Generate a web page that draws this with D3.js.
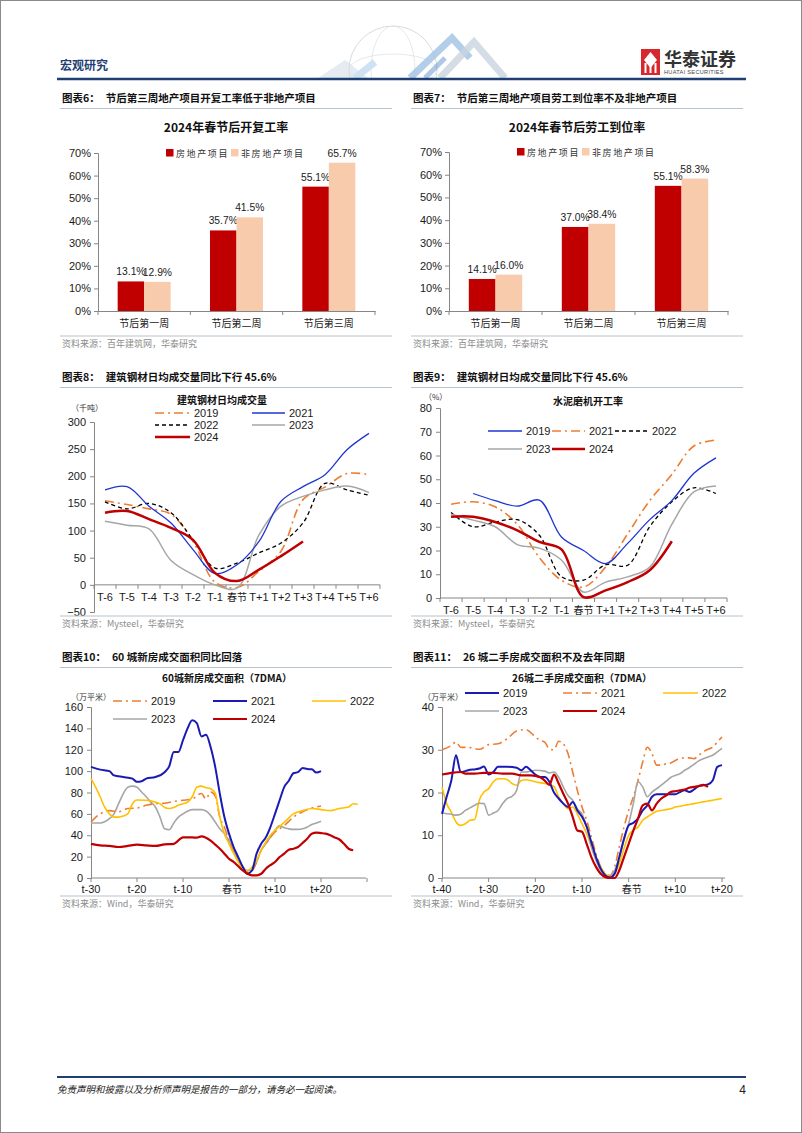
<!DOCTYPE html>
<html><head><meta charset="utf-8">
<script src="https://cdn.jsdelivr.net/npm/d3@7"></script>
<style>
html,body{margin:0;padding:0;background:#fff;}
svg text{font-family:"Liberation Sans","Noto Sans CJK SC",sans-serif;}
.cn{font-family:"Noto Sans CJK SC",sans-serif;}
</style></head>
<body><svg id="page" width="802" height="1133"></svg>
<script>
// ---------------- DATA ----------------
const barCats = ["节后第一周","节后第二周","节后第三周"];
const barSeriesNames = ["房地产项目","非房地产项目"];
const resumeRE = [13.1,35.7,55.1];
const resumeNonRE = [12.9,41.5,65.7];
const laborRE = [14.1,37.0,55.1];
const laborNonRE = [16.0,38.4,58.3];
const pctTicks = [0,10,20,30,40,50,60,70];

const weekCats = ["T-6","T-5","T-4","T-3","T-2","T-1","春节","T+1","T+2","T+3","T+4","T+5","T+6"];
const steelTicks = [-50,0,50,100,150,200,250,300];
const steel2019 = [155,148,140,130,80,5,-5,25,62,157,180,205,203];
const steel2021 = [175,181,145,114,65,21,37,80,154,181,203,249,279];
const steel2022 = [153,140,150,133,83,31,40,59,77,114,187,175,165];
const steel2023 = [117,110,103,45,19,0,-6,92,145,163,175,182,170];
const steel2024 = [133,136,121,105,83,22,7,28,53,80];

const cementTicks = [0,10,20,30,40,50,60,70,80];
const cement2019 = [null,44,41,38.7,41.2,25.7,20,14.5,23,33,41,52.5,59];
const cement2021 = [39.5,40.5,38.4,31,17,7.5,4.6,13,27,41,52,64,66.5];
const cement2022 = [36,30,32,33,26.4,9,7.5,14,13.8,30,40.5,46.4,44];
const cement2023 = [35.3,32.8,30,22.5,21,16,2.5,6.7,8.9,13,31,44.7,47.2];
const cement2024 = [34.2,34.2,32,28.5,23.6,20.5,0.4,3.2,6.7,11.7,23.9];

// 60城新房 (day offset, value)
const newTicks = [0,20,40,60,80,100,120,140,160];
const newXTicks = [-30,-20,-10,0,10,20,30];
const newXLabels = ["t-30","t-20","t-10","春节","t+10","t+20",""];
const new2019 = [[-30,52.4],[-28,60],[-26,63],[-24,62],[-22,65],[-20,65.5],[-18,68],[-16,69.5],[-14,70],[-12,71.7],[-10,72.7],[-8,74],[-6,79],[-5,74],[-4,80.5],[-3,77],[-2,57],[-1,47.7],[0,35],[1,26],[2,18],[3,10],[4,5.6],[5,7],[6,15],[7,26],[8,32],[9,38],[10,43],[12,49],[14,57],[16,62],[18,65.5],[20,67.4]];
const new2021 = [[-30,104],[-28,101.4],[-26,100],[-25,96],[-23,94.5],[-21,93],[-20,90],[-19,90.5],[-18,93],[-16,94.5],[-14,99],[-13,104.5],[-12,118],[-11,118],[-10,129],[-9,140],[-8,147.5],[-7,145],[-6,132.5],[-5,134],[-4,122.6],[-3,104],[-2,79],[-1,57],[0,41.5],[1,29],[2,19.6],[3,10.3],[4,4],[5,7],[6,22.8],[7,32],[8,38],[9,47.7],[10,60],[11,72.7],[12,85],[13,91],[14,98],[15,99],[16,103],[17,102],[18,101.7],[19,98.6],[20,100]];
const new2022 = [[-30,93],[-29,85],[-28,76],[-27,66],[-26,60],[-25,57],[-24,57],[-23,58],[-22,60],[-21,69.5],[-20,73],[-18,72.7],[-16,71],[-15,69.5],[-14,66],[-13,65],[-12,66],[-11,68],[-10,69.5],[-9,71],[-8,76],[-7,85],[-6,86],[-5,84.5],[-4,83.6],[-3,79.5],[-2,57],[-1,41.5],[0,32],[1,23],[2,15],[3,8.7],[4,7],[5,10],[6,16.5],[7,26],[8,33.7],[9,40],[10,44.6],[12,52],[14,60],[16,63],[18,65],[20,64],[22,63],[24,65],[26,66.4],[27,69.5],[28,69]];
const new2023 = [[-30,51.5],[-28,51.5],[-26,55.5],[-25,60],[-24,69.5],[-22,85],[-21,86],[-20,85],[-19,80.5],[-18,76],[-17,71],[-16,66.4],[-15,57],[-14,46],[-13,45.2],[-12,51.5],[-11,57],[-10,60],[-9,62.4],[-8,64],[-6,64],[-5,62.7],[-4,58.6],[-3,52.4],[-2,46],[-1,41.5],[0,35],[1,26],[2,16.5],[3,10],[4,7],[5,7],[6,15],[7,26],[8,32],[9,38],[10,44.6],[11,49],[12,47],[13,46],[14,45.5],[15,45.5],[16,46],[17,47.7],[18,50],[19,51.5],[20,53]];
const new2024 = [[-30,32],[-28,30.6],[-26,30],[-24,29],[-22,30],[-20,31.2],[-18,30.6],[-16,30],[-14,31.5],[-12,32],[-10,38],[-8,38],[-7,37.7],[-6,39],[-5,37.7],[-4,35],[-3,31.2],[-2,27.4],[-1,22.8],[0,18],[1,15],[2,11],[3,7],[4,4],[5,2.5],[6,2.5],[7,4],[8,8.7],[9,12],[10,15],[11,19.6],[12,22.8],[13,26.5],[14,27.4],[15,29],[16,32.8],[17,36.8],[18,41.5],[19,42.4],[20,42],[21,41.5],[22,40],[23,38],[24,36],[25,32],[26,27.4],[27,26]];

// 26城二手房 (day offset, value)
const oldTicks = [0,10,20,30,40];
const oldXTicks = [-40,-30,-20,-10,0,10,20];
const oldXLabels = ["t-40","t-30","t-20","t-10","春节","t+10","t+20"];
const old2019 = [[-40,15],[-39,19],[-38,22.8],[-37,28.7],[-36,24.8],[-35,25],[-34,25.3],[-33,25.4],[-32,25.6],[-31,26.1],[-30,24.2],[-29,24.8],[-28,26],[-26,26],[-24,25.8],[-23,25.2],[-22,26],[-21,25.2],[-20,24.2],[-19,23.6],[-18,23.6],[-17,22.5],[-16,20],[-15,18.6],[-14,17.4],[-13,16.6],[-12,17.8],[-11,15.8],[-10,14.3],[-9,12],[-8,8.4],[-7,4.9],[-6,2.2],[-5,0.6],[-4,0.1],[-3,1],[-2,4.9],[-1,9.2],[0,12.3],[1,12.9],[2,13.9],[3,15.8],[4,17],[5,19],[6,19.6],[7,19.6],[8,19.6],[9,19.6],[10,19.6],[11,20.1],[12,20.5],[13,20.1],[14,20.7],[15,21.5],[16,21.7],[17,21.9],[18,22.8],[19,26],[20,26.4]];
const old2021 = [[-40,30],[-38,31],[-37,31.8],[-36,30.6],[-34,30.5],[-32,30.1],[-30,31.2],[-28,31.4],[-26,32.6],[-24,34.4],[-22,34.7],[-21,34],[-20,33],[-19,32.2],[-18,31.8],[-17,30.2],[-16,30],[-15,32],[-14,31.4],[-13,29.1],[-12,24.8],[-11,20.5],[-10,16.6],[-9,13.5],[-8,9.6],[-7,5.7],[-6,2.6],[-5,1],[-4,0.6],[-3,2.6],[-2,7.3],[-1,11.9],[0,15.8],[1,19],[2,22.8],[3,27.1],[4,30.6],[5,29.1],[6,26.4],[7,26.4],[8,26.7],[9,26.9],[10,27.5],[11,27.9],[12,28.1],[13,28.1],[14,27.9],[15,28.7],[16,29.5],[17,30.1],[18,30.6],[19,31.8],[20,33]];
const old2022 = [[-40,21.3],[-39,17.4],[-38,15.4],[-37,13.1],[-36,12.3],[-35,12.7],[-34,13.5],[-33,13.7],[-32,18.2],[-31,20.1],[-30,20.9],[-29,22.5],[-28,23.2],[-27,23.2],[-26,23],[-25,22.1],[-24,21.7],[-23,22.8],[-22,23],[-21,22.8],[-20,22.5],[-18,22.1],[-16,21.4],[-15,19],[-14,17.4],[-13,16.2],[-12,16.6],[-11,15],[-10,12.7],[-9,10.4],[-8,7.3],[-7,4.5],[-6,2.6],[-5,1],[-4,0.4],[-3,1],[-2,3.4],[-1,6.9],[0,10],[1,11.2],[2,11.9],[3,13.5],[4,14.3],[5,15],[6,15.6],[7,15.8],[8,16],[9,16.2],[10,16.6],[11,16.8],[12,17],[13,17.2],[14,17.4],[15,17.6],[16,17.8],[17,18],[18,18.2],[19,18.4],[20,18.6]];
const old2023 = [[-40,15.2],[-38,14.9],[-37,14.7],[-36,14.9],[-35,15.8],[-34,16.4],[-33,17],[-32,17.5],[-31,17.4],[-30,14.7],[-29,15.2],[-28,15.8],[-27,17.4],[-26,18.6],[-25,19.1],[-24,20.5],[-23,24.8],[-22,24.8],[-21,25],[-20,25.2],[-18,25],[-17,24.6],[-16,24.8],[-15,23.6],[-14,21.3],[-13,19.3],[-12,18.2],[-11,16.2],[-10,15],[-9,11.9],[-8,7.3],[-7,4.1],[-6,1.8],[-5,0.6],[-4,0.4],[-3,1.8],[-2,4.9],[-1,8.8],[0,12.7],[1,17.4],[2,22.5],[3,21.3],[4,19],[5,20.1],[6,20.9],[7,21.7],[8,22.6],[9,23.5],[10,24],[11,24.4],[12,25.2],[13,25.8],[14,26.6],[15,27.4],[16,27.9],[17,28.3],[18,28.7],[19,29.5],[20,30.3]];
const old2024 = [[-40,24.2],[-38,24.6],[-36,24.8],[-35,24.4],[-33,24.4],[-31,24.6],[-29,24.6],[-27,24.4],[-25,24.4],[-23,24],[-21,24],[-19,23.6],[-18,22.8],[-17,21.8],[-16,24.2],[-15,22.1],[-14,19.7],[-13,17.4],[-12,14.3],[-11,11.1],[-10,10.8],[-9,8],[-8,4.9],[-7,2.6],[-6,1],[-5,0.2],[-4,0],[-3,0],[-2,1.8],[-1,4.9],[0,8],[1,11.1],[2,13.9],[3,17],[4,17.4],[5,15.8],[6,17.4],[7,18.6],[8,19.3],[9,20.1],[10,20.3],[11,20.5],[12,20.7],[13,21.1],[14,21.3],[15,21.5],[16,21.8],[17,21.3]];

// ---------------- STYLE ----------------
const RED="#C00000", PEACH="#F8CBAD", ORANGE="#ED7D31", BLUE="#1F35D2", BLUE2="#1A1AB4", GRAY="#A6A6A6", YEL="#FFC000", BLK="#000";
const AXIS="#868686", TXT="#1a1a1a", SRC="#8c8c8c";

const svg = d3.select("#page");
svg.append("rect").attr("x",0.5).attr("y",0.5).attr("width",801).attr("height",1132).attr("fill","#fff").attr("stroke","#8a8a8a");

// ---------------- HEADER ----------------
const hdr = svg.append("g");
svg.append("clipPath").attr("id","hclip").append("rect").attr("x",290).attr("y",20).attr("width",260).attr("height",58);
const deco = hdr.append("g").attr("clip-path","url(#hclip)");
deco.append("path").attr("d","M318,78 L345,60 L368,78 Z").attr("fill","#e6ebf1");
deco.append("circle").attr("cx",393).attr("cy",70).attr("r",44).attr("fill","none").attr("stroke","#d5dbe2").attr("stroke-width",1);
deco.append("ellipse").attr("cx",393).attr("cy",70).attr("rx",22).attr("ry",44).attr("fill","none").attr("stroke","#dde2e8").attr("stroke-width",0.8);
deco.append("ellipse").attr("cx",393).attr("cy",70).attr("rx",44).attr("ry",16).attr("fill","none").attr("stroke","#dde2e8").attr("stroke-width",0.8);
deco.append("path").attr("d","M355,78 L375,62").attr("stroke","#cfe2f3").attr("stroke-width",7);
deco.append("path").attr("d","M410,78 L452,38 L470,58").attr("fill","none").attr("stroke","#9fc2e4").attr("stroke-width",7).attr("opacity",0.8);
deco.append("path").attr("d","M440,78 L474,42 L505,78").attr("fill","none").attr("stroke","#c9d3df").attr("stroke-width",7).attr("opacity",0.8);
deco.append("path").attr("d","M425,78 L445,58").attr("stroke","#5f93cc").attr("stroke-width",5).attr("opacity",0.5);
hdr.append("text").attr("class","cn").attr("x",60).attr("y",70).attr("font-size",12).attr("font-weight","bold").attr("fill","#1F3F73").text("宏观研究");
hdr.append("line").attr("x1",57).attr("x2",746).attr("y1",79).attr("y2",79).attr("stroke","#1F3F73").attr("stroke-width",2.5);
// logo
const logo = hdr.append("g");
logo.append("rect").attr("x",641).attr("y",49).attr("width",19).attr("height",26).attr("fill","#D7282F");
logo.append("path").attr("d","M650.5,52 L657,60 L650.5,68 L644,60 Z").attr("fill","#fff");
logo.append("rect").attr("x",644.5).attr("y",63).attr("width",2).attr("height",10).attr("fill","#fff");
logo.append("rect").attr("x",649.5).attr("y",63).attr("width",2).attr("height",10).attr("fill","#fff");
logo.append("rect").attr("x",654.5).attr("y",63).attr("width",2).attr("height",10).attr("fill","#fff");
logo.append("text").attr("class","cn").attr("x",664).attr("y",66).attr("font-size",18).attr("font-weight","bold").attr("fill","#333").text("华泰证券");
logo.append("text").attr("x",664).attr("y",74).attr("font-size",5.6).attr("fill","#444").attr("letter-spacing",0.3).text("HUATAI SECURITIES");

// ---------------- FOOTER ----------------
svg.append("line").attr("x1",57).attr("x2",746).attr("y1",1077).attr("y2",1077).attr("stroke","#1F3F73").attr("stroke-width",2);
svg.append("text").attr("class","cn").attr("x",57).attr("y",1093).attr("font-size",9.5).attr("font-style","italic").attr("fill","#222").text("免责声明和披露以及分析师声明是报告的一部分，请务必一起阅读。");
svg.append("text").attr("x",746).attr("y",1094).attr("text-anchor","end").attr("font-size",12).attr("fill","#222").text("4");

// ---------------- HELPERS ----------------
function figTitle(x, y, lineX2, label, title){
  const t = svg.append("text").attr("class","cn").attr("x",x).attr("y",y).attr("font-size",10.5).attr("font-weight","bold").attr("fill","#111");
  t.append("tspan").text(label);
  t.append("tspan").attr("dx",6).text(title);
  svg.append("line").attr("x1",x-2).attr("x2",lineX2).attr("y1",y+6.5).attr("y2",y+6.5).attr("stroke","#b8c2cc").attr("stroke-width",1);
}
function source(x, y, lineX2, text){
  svg.append("line").attr("x1",x-2).attr("x2",lineX2).attr("y1",y-8).attr("y2",y-8).attr("stroke","#b8c2cc").attr("stroke-width",1);
  svg.append("text").attr("class","cn").attr("x",x).attr("y",y+3).attr("font-size",9).attr("fill",SRC).text(text);
}
function centerTitle(x, y, text, size){
  svg.append("text").attr("class","cn").attr("x",x).attr("y",y).attr("text-anchor","middle").attr("font-size",size).attr("font-weight","bold").attr("fill","#111").text(text);
}
function unitLabel(x, y, text){
  svg.append("text").attr("class","cn").attr("x",x).attr("y",y).attr("font-size",8).attr("fill","#333").text(text);
}

function barChart(o){
  const g = svg.append("g");
  const x = d3.scaleBand().domain(barCats).range([o.x0,o.x1]);
  const y = d3.scaleLinear().domain([0,70]).range([o.y0,o.y70]);
  const bw = x.bandwidth()*0.287;
  const ya = g.append("g").attr("transform",`translate(${o.x0},0)`).call(d3.axisLeft(y).tickValues(pctTicks).tickSize(4).tickFormat(d=>d+"%"));
  const xa = g.append("g").attr("transform",`translate(0,${o.y0})`).call(d3.axisBottom(x).tickSize(0).tickPadding(9));
  [ya,xa].forEach(a=>{a.select(".domain").attr("stroke",AXIS);a.selectAll(".tick line").attr("stroke",AXIS);});
  ya.selectAll("text").attr("font-size",11).attr("fill",TXT).attr("font-family","Liberation Sans");
  xa.selectAll("text").attr("font-size",10).attr("fill",TXT).attr("font-family","Noto Sans CJK SC");
  const bounds = barCats.map(c=>x(c)).concat([o.x1]);
  g.selectAll(".bt").data(bounds).join("line").attr("x1",d=>d).attr("x2",d=>d).attr("y1",o.y0).attr("y2",o.y0+4).attr("stroke",AXIS);
  const series = [{v:o.a,c:RED,off:-bw},{v:o.b,c:PEACH,off:0}];
  series.forEach(s=>{
    g.selectAll(null).data(barCats).join("rect")
      .attr("x",d=>x(d)+x.bandwidth()/2+s.off).attr("width",bw)
      .attr("y",(d,i)=>y(s.v[i])).attr("height",(d,i)=>o.y0-y(s.v[i])).attr("fill",s.c);
    g.selectAll(null).data(barCats).join("text")
      .attr("x",d=>x(d)+x.bandwidth()/2+s.off+bw/2).attr("y",(d,i)=>y(s.v[i])-6)
      .attr("text-anchor","middle").attr("font-size",10.3).attr("fill",TXT)
      .text((d,i)=>s.v[i].toFixed(1)+"%");
  });
  [[o.lx1,RED,barSeriesNames[0]],[o.lx2,PEACH,barSeriesNames[1]]].forEach(([lx,c,t])=>{
    g.append("rect").attr("x",lx).attr("y",o.ly-4).attr("width",7.5).attr("height",7.5).attr("fill",c);
    g.append("text").attr("class","cn").attr("x",lx+10).attr("y",o.ly+3.5).attr("font-size",9).attr("letter-spacing",1.6).attr("fill","#333").text(t);
  });
}

function styleAxis(a, textSize){
  a.select(".domain").attr("stroke",AXIS);
  a.selectAll(".tick line").attr("stroke",AXIS);
  a.selectAll("text").attr("font-size",textSize).attr("fill",TXT).attr("font-family","Liberation Sans");
}

function legendItem(g, x1, x2, y, s, label){
  g.append("line").attr("x1",x1).attr("x2",x2).attr("y1",y).attr("y2",y)
    .attr("stroke",s.c).attr("stroke-width",s.w).attr("stroke-dasharray",s.d||null);
  g.append("text").attr("x",x2+4).attr("y",y+4).attr("font-size",11).attr("fill",TXT).text(label);
}

function weekChart(o){
  const g = svg.append("g");
  const x = d3.scaleBand().domain(weekCats).range([o.x0,o.x1]);
  const y = d3.scaleLinear().domain([o.ymin,o.ymax]).range([o.yb,o.yt]);
  const ya = g.append("g").attr("transform",`translate(${o.x0},0)`).call(d3.axisLeft(y).tickValues(o.ticks).tickSize(4).tickPadding(4));
  styleAxis(ya,11);
  const y0 = y(0);
  g.append("line").attr("x1",o.x0).attr("x2",o.x1).attr("y1",y0).attr("y2",y0).attr("stroke",AXIS);
  const bounds = weekCats.map(c=>x(c)).concat([o.x1]);
  g.selectAll(null).data(bounds).join("line").attr("x1",d=>d).attr("x2",d=>d).attr("y1",y0).attr("y2",y0+4).attr("stroke",AXIS);
  g.selectAll(null).data(weekCats).join("text")
    .attr("x",d=>x(d)+x.bandwidth()/2).attr("y",y0+16).attr("text-anchor","middle")
    .attr("font-size",d=>d==="春节"?10:11).attr("font-family",d=>d==="春节"?"Noto Sans CJK SC":"Liberation Sans")
    .attr("fill",TXT).text(d=>d);
  const line = d3.line().x(d=>x(d[0])+x.bandwidth()/2).y(d=>y(d[1])).curve(d3.curveCatmullRom.alpha(0.5));
  o.series.forEach(s=>{
    const pts = s.v.map((v,i)=>[weekCats[i],v]).filter(p=>p[1]!=null);
    g.append("path").attr("d",line(pts)).attr("fill","none").attr("stroke",s.c).attr("stroke-width",s.w).attr("stroke-dasharray",s.d||null).attr("stroke-linejoin","round");
  });
  return g;
}

function dayChart(o){
  const g = svg.append("g");
  const x = d3.scaleLinear().domain(o.xdom).range([o.x0,o.x1r]);
  const y = d3.scaleLinear().domain([0,o.ymax]).range([o.yb,o.yt]);
  const ya = g.append("g").attr("transform",`translate(${o.x0},0)`).call(d3.axisLeft(y).tickValues(o.ticks).tickSize(4).tickPadding(4));
  styleAxis(ya,11);
  g.append("line").attr("x1",o.x0).attr("x2",o.xend).attr("y1",o.yb).attr("y2",o.yb).attr("stroke",AXIS);
  g.selectAll(null).data(o.xticks).join("line").attr("x1",d=>x(d)).attr("x2",d=>x(d)).attr("y1",o.yb).attr("y2",o.yb+4).attr("stroke",AXIS);
  g.selectAll(null).data(o.xticks).join("text")
    .attr("x",d=>x(d)).attr("y",o.yb+15).attr("text-anchor","middle")
    .attr("font-size",(d,i)=>o.xlabels[i]==="春节"?10:11)
    .attr("font-family",(d,i)=>o.xlabels[i]==="春节"?"Noto Sans CJK SC":"Liberation Sans")
    .attr("dx",(d,i)=>o.xlabels[i]==="春节"?3:0)
    .attr("fill",TXT).text((d,i)=>o.xlabels[i]);
  const line = d3.line().x(d=>x(d[0])).y(d=>y(d[1])).curve(d3.curveMonotoneX);
  o.series.forEach(s=>{
    g.append("path").attr("d",line(s.v)).attr("fill","none").attr("stroke",s.c).attr("stroke-width",s.w).attr("stroke-dasharray",s.d||null).attr("stroke-linejoin","round");
  });
  return g;
}

// ---------------- FIGURE 6 ----------------
figTitle(62,102,392,"图表6：","节后第三周地产项目开复工率低于非地产项目");
centerTitle(226,132,"2024年春节后开复工率",12);
barChart({x0:98,x1:375,y0:311,y70:153,a:resumeRE,b:resumeNonRE,lx1:166,lx2:231,ly:153});
source(62,344,392,"资料来源：百年建筑网，华泰研究");

// ---------------- FIGURE 7 ----------------
figTitle(413,102,743,"图表7：","节后第三周地产项目劳工到位率不及非地产项目");
centerTitle(577,132,"2024年春节后劳工到位率",12);
barChart({x0:449,x1:728,y0:311,y70:152,a:laborRE,b:laborNonRE,lx1:517,lx2:582,ly:152});
source(413,344,743,"资料来源：百年建筑网，华泰研究");

// ---------------- FIGURE 8 ----------------
figTitle(62,381,392,"图表8：","建筑钢材日均成交量同比下行 45.6%");
centerTitle(222,404,"建筑钢材日均成交量",10);
unitLabel(71,411,"（千吨）");
const S = {
  o:{c:ORANGE,w:1.6,d:"9,4,2,4"}, b:{c:BLUE,w:1.3}, k:{c:BLK,w:1.3,d:"4,3"}, g:{c:GRAY,w:1.5}, r:{c:RED,w:2.5}
};
const f8 = weekChart({x0:94,x1:380,yb:612,yt:422,ymin:-50,ymax:300,ticks:steelTicks,
  series:[{v:steel2019,...S.o},{v:steel2022,...S.k},{v:steel2023,...S.g},{v:steel2021,...S.b},{v:steel2024,...S.r}]});
legendItem(f8,155,190,413,S.o,"2019");
legendItem(f8,252,285,413,S.b,"2021");
legendItem(f8,155,190,425,S.k,"2022");
legendItem(f8,252,285,425,S.g,"2023");
legendItem(f8,155,190,437,S.r,"2024");
source(62,624,392,"资料来源：Mysteel，华泰研究");

// ---------------- FIGURE 9 ----------------
figTitle(413,381,743,"图表9：","建筑钢材日均成交量同比下行 45.6%");
centerTitle(588,405,"水泥磨机开工率",10);
unitLabel(424,400,"（%）");
const f9 = weekChart({x0:440,x1:727,yb:598,yt:408,ymin:0,ymax:80,ticks:cementTicks,
  series:[{v:cement2021,...S.o},{v:cement2022,...S.k},{v:cement2023,...S.g},{v:cement2019,...S.b},{v:cement2024,...S.r}]});
legendItem(f9,488,522,431,S.b,"2019");
legendItem(f9,552,585,431,S.o,"2021");
legendItem(f9,615,648,431,S.k,"2022");
legendItem(f9,488,522,449,S.g,"2023");
legendItem(f9,552,585,449,S.r,"2024");
source(413,624,743,"资料来源：Mysteel，华泰研究");

// ---------------- FIGURE 10 ----------------
figTitle(62,661,392,"图表10：","60 城新房成交面积同比回落");
centerTitle(227,682,"60城新房成交面积（7DMA）",10);
unitLabel(71,700,"（万平米）");
const T = {
  o:{c:ORANGE,w:1.6,d:"9,4,2,4"}, b:{c:BLUE2,w:2}, y:{c:YEL,w:1.6}, g:{c:GRAY,w:1.6}, r:{c:RED,w:2.2}
};
const f10 = dayChart({x0:91,x1r:367,xend:366,xdom:[-30,30],yb:878,yt:707,ymax:160,ticks:newTicks,
  xticks:newXTicks,xlabels:newXLabels,
  series:[{v:new2023,...T.g},{v:new2019,...T.o},{v:new2022,...T.y},{v:new2021,...T.b},{v:new2024,...T.r}]});
legendItem(f10,113,147,701,T.o,"2019");
legendItem(f10,213,247,701,T.b,"2021");
legendItem(f10,312,346,701,T.y,"2022");
legendItem(f10,113,147,719,T.g,"2023");
legendItem(f10,213,247,719,T.r,"2024");
source(62,904,392,"资料来源：Wind，华泰研究");

// ---------------- FIGURE 11 ----------------
figTitle(413,661,743,"图表11：","26 城二手房成交面积不及去年同期");
centerTitle(582,682,"26城二手房成交面积（7DMA）",10);
unitLabel(423,700,"（万平米）");
const f11 = dayChart({x0:442,x1r:722,xend:725,xdom:[-40,20],yb:878,yt:707,ymax:40,ticks:oldTicks,
  xticks:oldXTicks,xlabels:oldXLabels,
  series:[{v:old2021,...T.o},{v:old2022,...T.y},{v:old2023,...T.g},{v:old2019,...T.b},{v:old2024,...T.r}]});
legendItem(f11,465,499,693,T.b,"2019");
legendItem(f11,563,597,693,T.o,"2021");
legendItem(f11,663,698,693,T.y,"2022");
legendItem(f11,465,499,711,T.g,"2023");
legendItem(f11,563,597,711,T.r,"2024");
source(413,904,743,"资料来源：Wind，华泰研究");
</script></body></html>
